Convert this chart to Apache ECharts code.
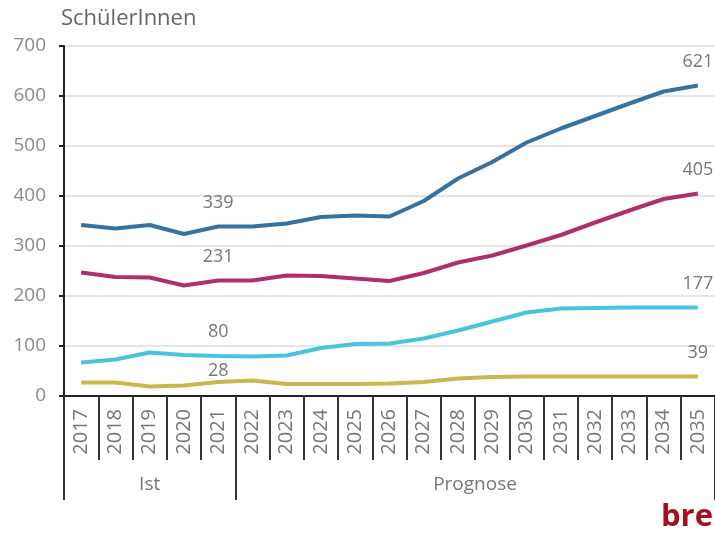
<!DOCTYPE html>
<html>
<head>
<meta charset="utf-8">
<script src="https://cdn.jsdelivr.net/npm/echarts@6/dist/echarts.min.js"></script>
<style>
  html, body { margin: 0; padding: 0; background: #fff; }
  #main { width: 715px; height: 537px; }
</style>
</head>
<body>
<div id="main"></div>
<script>
// Daten
var years = ['2017','2018','2019','2020','2021','2022','2023','2024','2025','2026',
             '2027','2028','2029','2030','2031','2032','2033','2034','2035'];
var blau    = [342, 335, 342, 324, 339, 339, 345, 358, 361, 359, 390, 435, 468, 507, 535, 560, 585, 609, 621];
var magenta = [247, 238, 237, 221, 231, 231, 241, 240, 235, 230, 246, 267, 281, 301, 322, 347, 371, 394, 405];
var cyan    = [67, 73, 87, 82, 80, 79, 81, 96, 104, 105, 115, 131, 149, 167, 175, 176, 177, 177, 177];
var oliv    = [27, 27, 19, 21, 28, 31, 24, 24, 24, 25, 28, 35, 38, 39, 39, 39, 39, 39, 39];
var yTicks  = [0, 100, 200, 300, 400, 500, 600, 700];
var gruppen = ['Ist', 'Prognose'];

var myChart = echarts.init(document.getElementById('main'));
var font = '"Open Sans", sans-serif';

// Beschriftung nur bei 2021 und 2035
function mitLabel(arr, dist2021) {
    return arr.map(function (v, i) {
        if (i === 4 || i === arr.length - 1) {
            return {
                value: v,
                label: {
                    show: true, position: 'top',
                    distance: (i === 4 ? dist2021 : 15),
                    color: '#777', fontSize: 18, fontFamily: font
                }
            };
        }
        return v;
    });
}

function linie(name, farbe, arr, dist) {
    return {
        name: name,
        type: 'line',
        data: mitLabel(arr, dist),
        symbol: 'circle',
        symbolSize: 0,
        showSymbol: true,
        smooth: false,
        lineStyle: { color: farbe, width: 4 },
        itemStyle: { color: farbe },
        labelLayout: { hideOverlap: false },
        z: 3
    };
}

option = {
    animation: false,
    title: {
        text: 'SchülerInnen',
        left: 56, top: 3,
        textStyle: { color: '#666', fontSize: 22, fontWeight: 'normal', fontFamily: font }
    },
    grid: { left: 64, top: 46, width: 653, height: 350 },
    xAxis: [{
        type: 'category',
        data: years,
        boundaryGap: true,
        axisLine: { show: true, lineStyle: { color: '#222', width: 2 } },
        axisTick: { show: true, interval: 0, length: 64, lineStyle: { color: '#333', width: 2 } },
        axisLabel: {
            interval: 0, rotate: 90, margin: 13,
            color: '#777', fontSize: 20, fontFamily: font
        }
    }, {
        type: 'category',
        data: years,
        position: 'bottom',
        boundaryGap: true,
        axisLine: { show: false },
        axisTick: {
            show: true, length: 104,
            interval: function (i) { return i === 0 || i === 5; },
            lineStyle: { color: '#333', width: 2 }
        },
        axisLabel: {
            margin: 79,
            interval: function (i) { return i === 2 || i === 11; },
            formatter: function (v, i) {
                return i === 2 ? gruppen[0] : '{p|' + gruppen[1] + '}';
            },
            color: '#777', fontSize: 19, fontFamily: font,
            rich: { p: { color: '#777', fontSize: 19, fontFamily: font, padding: [0, 0, 0, 34] } }
        }
    }],
    yAxis: {
        type: 'value',
        min: yTicks[0], max: yTicks[yTicks.length - 1], interval: 100,
        axisLine: { show: true, lineStyle: { color: '#222', width: 2 } },
        axisTick: { show: true, length: 5, lineStyle: { color: '#222', width: 2 } },
        axisLabel: { color: '#8a8a8a', fontSize: 19, margin: 18, fontFamily: font },
        splitLine: { show: true, lineStyle: { color: '#dcdcdc', width: 1.5 } }
    },
    series: [
        linie('blau', '#3672a0', blau, 15),
        linie('magenta', '#ae2f6d', magenta, 15),
        linie('cyan', '#48c4de', cyan, 15),
        linie('oliv', '#c9b84c', oliv, 2)
    ],
    graphic: [{
        type: 'text',
        right: 2, bottom: 4,
        style: { text: 'bre', fill: '#a3101f', font: 'bold 31px "Open Sans", sans-serif' }
    }]
};

myChart.setOption(option);
</script>
</body>
</html>
